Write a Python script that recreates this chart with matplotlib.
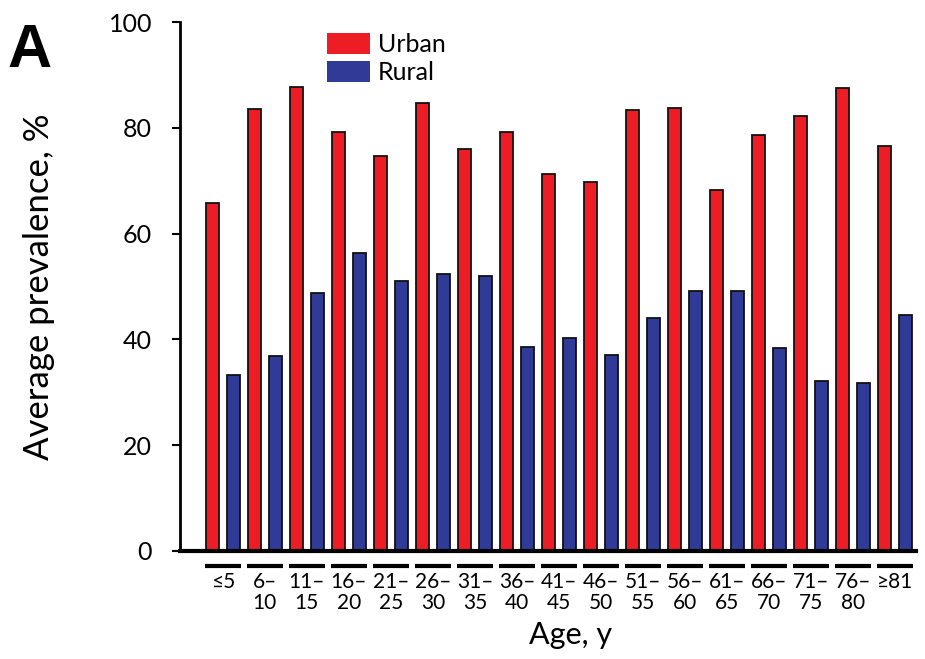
import matplotlib
matplotlib.use("Agg")
import matplotlib.pyplot as plt
import numpy as np
from matplotlib.patches import Patch

age_groups = ["≤5", "6–\n10", "11–\n15", "16–\n20", "21–\n25", "26–\n30", "31–\n35",
              "36–\n40", "41–\n45", "46–\n50", "51–\n55", "56–\n60", "61–\n65",
              "66–\n70", "71–\n75", "76–\n80", "≥81"]
urban = [65.7, 83.5, 87.8, 79.2, 74.7, 84.6, 75.9, 79.2, 71.3, 69.8, 83.3, 83.8,
         68.2, 78.6, 82.3, 87.6, 76.6]
rural = [33.3, 36.9, 48.7, 56.3, 51.1, 52.3, 52.0, 38.5, 40.2, 37.1, 44.1, 49.1,
         49.1, 38.3, 32.2, 31.7, 44.7]
y_ticks = [0, 20, 40, 60, 80, 100]

red = "#ee1c25"
blue = "#2f3b97"

plt.rcParams['font.family'] = ['Lato', 'DejaVu Sans']

fig = plt.figure(figsize=(9.25, 6.59), dpi=100)
ax = fig.add_axes([0.1946, 0.1639, 0.7957, 0.8027])

x = np.arange(len(age_groups))
w = 0.31
off = 0.245
ax.bar(x - off, urban, w, color=red, edgecolor="#111111", linewidth=1.3, zorder=3)
ax.bar(x + off, rural, w, color=blue, edgecolor="#111111", linewidth=1.3, zorder=3)

ax.set_xlim(-1.02, 16.5)
ax.set_ylim(0, 100)

for s in ["top", "right"]:
    ax.spines[s].set_visible(False)
ax.spines["left"].set_linewidth(2)
ax.spines["bottom"].set_linewidth(3)
ax.spines["bottom"].set_zorder(4)

ax.set_yticks(y_ticks)
ax.tick_params(axis="y", labelsize=18, length=6, width=1.5, pad=14)
ax.set_xticks(x)
ax.set_xticklabels(age_groups, fontsize=15, linespacing=1.1)
ax.tick_params(axis="x", length=0, pad=15)

# group underline bars
trans = ax.get_xaxis_transform()
for xi in x:
    ax.plot([xi - 0.42, xi + 0.42], [-0.028, -0.028], color="black", lw=3,
            transform=trans, clip_on=False, solid_capstyle="butt")

ax.set_xlabel("Age, y", fontsize=22)
ax.xaxis.set_label_coords(0.531, -0.132)
ax.set_ylabel("Average prevalence, %", fontsize=25)
ax.yaxis.set_label_coords(-0.17, 0.5)

handles = [Patch(facecolor=red, edgecolor="none", label="Urban"),
           Patch(facecolor=blue, edgecolor="none", label="Rural")]
leg = fig.legend(handles=handles, loc="upper left", bbox_to_anchor=(0.353, 0.95),
                 frameon=False, fontsize=18, handlelength=1.75, handleheight=0.9,
                 handletextpad=0.3, labelspacing=0.22, borderaxespad=0,
                 borderpad=0)

fig.text(0.008, 0.965, "A", fontsize=44, fontweight="bold", va="top", ha="left",
         family=["Liberation Sans", "DejaVu Sans"])

fig.savefig("out.png", dpi=100)
